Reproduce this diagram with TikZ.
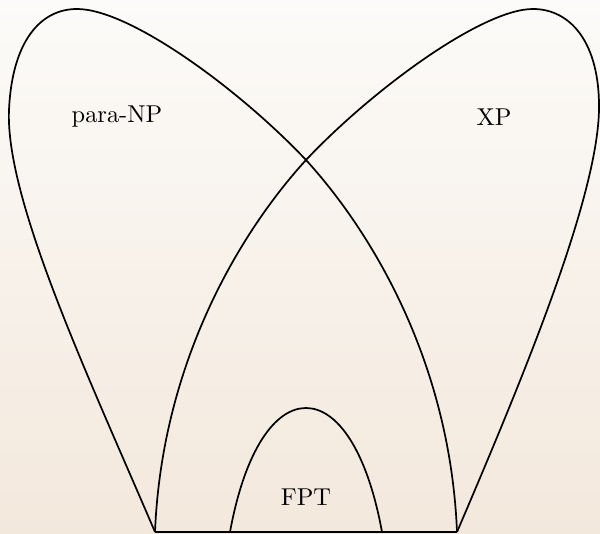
\documentclass[tikz,border=0pt]{standalone}
\usepackage{tikz}
\usetikzlibrary{positioning,calc}
\definecolor{bgTop}{RGB}{252,251,249}
\definecolor{bgBottom}{RGB}{243,232,220}

\begin{document}
\begin{tikzpicture}[x=0.0144cm, y=-0.0144cm,
        every node/.style={font=\normalsize, align=center},
        classline/.style={line width=0.7pt, black}]
        \shade[top color=bgTop, bottom color=bgBottom] (0,0) rectangle (600,534);
        \useasboundingbox (0,0) rectangle (600,534);
        \coordinate (baseL) at (155,532);
        \coordinate (baseR) at (457,532);
        \coordinate (cross) at (306,160);
        % para-NP loop
        \draw[classline] (baseL) .. controls (90,380) and (5,200) .. (9,110)
            .. controls (12,42) and (40,9) .. (77,9)
            .. controls (130,9) and (240,90) .. (cross)
            .. controls (370,230) and (450,360) .. (baseR);
        % XP loop
        \draw[classline] (baseR) .. controls (522,380) and (597,200) .. (599,110)
            .. controls (600,42) and (570,9) .. (533,9)
            .. controls (482,9) and (372,90) .. (cross)
            .. controls (242,230) and (162,360) .. (baseL);
        % FPT arch
        \coordinate (fptL) at (230,532);
        \coordinate (fptR) at (382,532);
        \draw[classline] (fptL) .. controls (245,450) and (275,408) .. (306,408)
            .. controls (337,408) and (367,450) .. (fptR);
        \draw[classline] (baseL) -- (baseR);
        \node (paraNP) at (117,117) {para-NP};
        \node (xp) at (494,117) {XP};
        \node (fpt) at (306,497) {FPT};
    \end{tikzpicture}
\end{document}
